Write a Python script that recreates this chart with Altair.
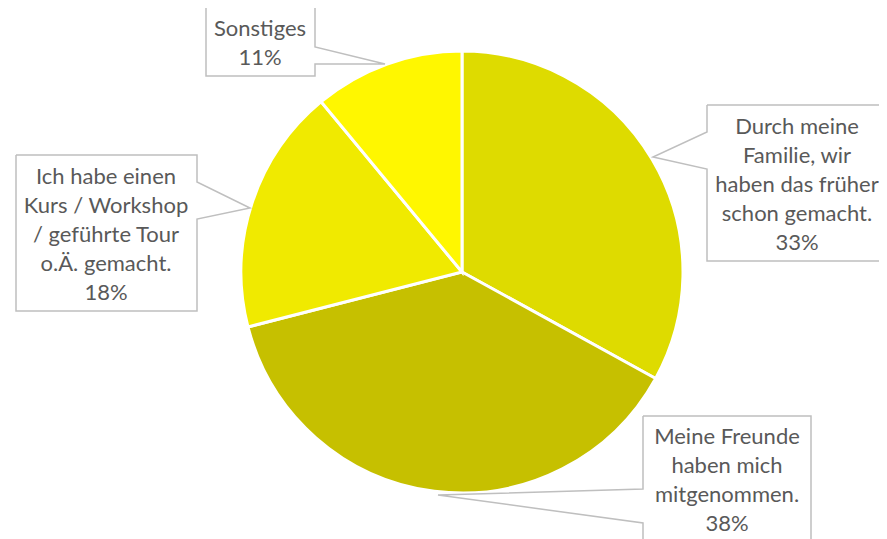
import altair as alt
import pandas as pd

# ---- data ----
categories = [
    "Durch meine Familie, wir haben das früher schon gemacht.",
    "Meine Freunde haben mich mitgenommen.",
    "Ich habe einen Kurs / Workshop / geführte Tour o.Ä. gemacht.",
    "Sonstiges",
]
values = [33, 38, 18, 11]
wrapped = [
    ["Durch meine", "Familie, wir", "haben das früher", "schon gemacht."],
    ["Meine Freunde", "haben mich", "mitgenommen."],
    ["Ich habe einen", "Kurs / Workshop", "/ geführte Tour", "o.Ä. gemacht."],
    ["Sonstiges"],
]
colors = ["#DEDB00", "#C6C000", "#F0EA00", "#FFF700"]

# ---- layout (page pixel coordinates) ----
W, H = 871, 531
X0, Y0 = 8, 8
cx, cy, R = 462, 272, 221

# first-line position of each label block
label_pos = [(797, 127), (727, 437), (106, 177), (260, 29)]
# callout outlines
callouts = [
    [(707, 105), (895, 105), (895, 261), (707, 261), (707, 169), (653, 157), (707, 132), (707, 105)],
    [(643, 416), (811, 416), (811, 560), (643, 560), (643, 523), (438, 495), (643, 489), (643, 416)],
    [(16, 155), (197, 155), (197, 182), (250, 208), (197, 219), (197, 311), (16, 311), (16, 155)],
    [(206, 7), (315, 7), (315, 47), (385, 64), (315, 64), (315, 76), (206, 76), (206, 7)],
]

pie_df = pd.DataFrame({"cat": categories, "value": values, "idx": range(len(values))})

lab_df = pd.DataFrame({
    "x": [p[0] for p in label_pos],
    "y": [p[1] for p in label_pos],
    "text": ["\n".join(w + [f"{v}%"]) for w, v in zip(wrapped, values)],
})

rows = []
for i, pts in enumerate(callouts):
    for k, (px, py) in enumerate(pts):
        rows.append({"id": i, "k": k, "x": px, "y": py})
poly_df = pd.DataFrame(rows)

xs = alt.Scale(domain=[X0, X0 + W], nice=False, zero=False)
ys = alt.Scale(domain=[Y0, Y0 + H], nice=False, zero=False, reverse=True)

pie = alt.Chart(pie_df).mark_arc(radius=R, stroke="white", strokeWidth=3).encode(
    theta=alt.Theta("value:Q", stack=True),
    order=alt.Order("idx:Q"),
    color=alt.Color("cat:N", scale=alt.Scale(domain=categories, range=colors), legend=None),
    x=alt.value(cx - X0),
    y=alt.value(cy - Y0),
)

outline = alt.Chart(poly_df).mark_line(color="#BFBFBF", strokeWidth=1.5, strokeJoin="miter").encode(
    x=alt.X("x:Q", scale=xs, axis=None),
    y=alt.Y("y:Q", scale=ys, axis=None),
    detail="id:N",
    order="k:Q",
)

labels = alt.Chart(lab_df).mark_text(
    font="Lato", fontSize=22, color="#595959", lineBreak="\n", lineHeight=29,
    align="center", baseline="middle",
).encode(
    x=alt.X("x:Q", scale=xs, axis=None),
    y=alt.Y("y:Q", scale=ys, axis=None),
    text="text:N",
)

chart = alt.layer(pie, outline, labels).properties(
    width=W, height=H, padding=0, autosize=alt.AutoSizeParams(type="none"), background="white"
).configure_view(stroke=None)

chart.save("out.html", embed_options={"renderer": "svg", "actions": False})
